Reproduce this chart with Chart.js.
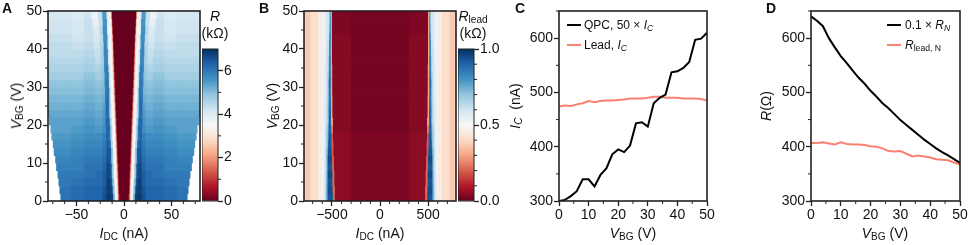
<!DOCTYPE html>
<html>
<head>
<meta charset="utf-8">
<script src="https://cdn.jsdelivr.net/npm/chart.js@4"></script>
<style>
  html, body { margin: 0; padding: 0; background: #fff; }
  body { position: relative; width: 969px; height: 245px; overflow: hidden;
    font-family: "Liberation Sans", Arial, sans-serif; color: #111; }
  .box { position: absolute; }
  .txt { position: absolute; white-space: nowrap; font-size: 14px; line-height: 16px; }
  .cx { transform: translate(-50%, -50%); }
  .rot { transform: translate(-50%, -50%) rotate(-90deg); }
  .panel { font-weight: bold; font-size: 14px; }
  .leg { font-size: 12px; transform: translateY(-50%); }
  .swatch { position: absolute; height: 2px; width: 14px; }
  sub { font-size: 72%; line-height: 0; vertical-align: -0.22em; }
</style>
</head>
<body>
<div class="box" style="left:0;top:0;width:202px;height:245px"><canvas id="chart-a"></canvas></div>
<div class="box" style="left:202px;top:0;width:50px;height:245px"><canvas id="bar-a"></canvas></div>
<div class="box" style="left:260px;top:0;width:198px;height:245px"><canvas id="chart-b"></canvas></div>
<div class="box" style="left:458px;top:0;width:50px;height:245px"><canvas id="bar-b"></canvas></div>
<div class="box" style="left:515px;top:0;width:210px;height:245px"><canvas id="chart-c"></canvas></div>
<div class="box" style="left:767px;top:0;width:202px;height:245px"><canvas id="chart-d"></canvas></div>

<div class="txt panel" style="left:2px;top:0">A</div>
<div class="txt panel" style="left:259px;top:0">B</div>
<div class="txt panel" style="left:515px;top:0">C</div>
<div class="txt panel" style="left:766px;top:0">D</div>

<div class="txt cx" style="left:124px;top:233px"><i>I</i><sub>DC</sub> (nA)</div>
<div class="txt rot" style="left:16px;top:106px"><i>V</i><sub>BG</sub> (V)</div>
<div class="txt cx" style="left:215px;top:16px"><i>R</i></div>
<div class="txt cx" style="left:215px;top:33px">(kΩ)</div>

<div class="txt cx" style="left:380px;top:233px"><i>I</i><sub>DC</sub> (nA)</div>
<div class="txt rot" style="left:272px;top:106px"><i>V</i><sub>BG</sub> (V)</div>
<div class="txt cx" style="left:473px;top:16px"><i>R</i><sub>lead</sub></div>
<div class="txt cx" style="left:473px;top:33px">(kΩ)</div>

<div class="txt cx" style="left:633px;top:233px"><i>V</i><sub>BG</sub> (V)</div>
<div class="txt rot" style="left:515px;top:106px"><i>I<sub>C</sub></i>&nbsp; (nA)</div>
<div class="swatch" style="left:567px;top:24px;background:#000"></div>
<div class="txt leg" style="left:584px;top:25px">QPC, 50 × <i>I<sub>C</sub></i></div>
<div class="swatch" style="left:567px;top:44px;background:#fa8072"></div>
<div class="txt leg" style="left:584px;top:45px">Lead, <i>I<sub>C</sub></i></div>

<div class="txt cx" style="left:885px;top:233px"><i>V</i><sub>BG</sub> (V)</div>
<div class="txt rot" style="left:766px;top:106px"><i>R</i>(Ω)</div>
<div class="swatch" style="left:887px;top:24px;background:#000"></div>
<div class="txt leg" style="left:905px;top:25px">0.1 × <i>R<sub>N</sub></i></div>
<div class="swatch" style="left:887px;top:44px;background:#fa8072"></div>
<div class="txt leg" style="left:905px;top:45px"><i>R</i><sub>lead, N</sub></div>

<script>
// back gate sweep: the maps are measured in 2 V rows, row centres below
const rowsVbg = [1, 3, 5, 7, 9, 11, 13, 15, 17, 19, 21, 23, 25, 27, 29, 31, 33, 35, 37, 39, 41, 43, 45, 47, 49];

// panel A, one line per row, |I_DC| where each band ends (nA) and its R (kOhm)
const edgesA = [
  [4.5, 5.5, 6.5, 9, 11, 14, 18, 22, 30, 42, 55, 66.5],
  [4.8, 5.8, 6.8, 9.5, 11.5, 14, 18, 22, 30, 42, 55, 67.5],
  [5, 6, 7, 10, 12, 14.5, 18, 22, 30, 42, 55, 68.5],
  [5.3, 6.3, 7.3, 10.5, 12.5, 15, 18, 22, 30, 42, 55, 69.5],
  [5.6, 6.6, 7.6, 10.5, 12.5, 15, 18, 22, 30, 42, 55, 71],
  [6, 7, 8, 11, 13, 15, 18, 22, 30, 42, 55, 72],
  [6.3, 7.2, 8.2, 11, 13, 15, 18, 22, 30, 42, 55, 73.5],
  [6.6, 7.5, 8.5, 11.5, 13.5, 15.5, 18, 22, 30, 42, 55, 74.5],
  [6.9, 7.8, 8.8, 12, 14, 16, 18.5, 22, 30, 42, 55, 76],
  [7.2, 8.1, 9, 12, 14, 16, 18.5, 22, 30, 42, 55, 77],
  [7.5, 8.4, 9.4, 12.5, 14.5, 16, 19, 22, 30, 42, 55, 78.5],
  [7.8, 8.7, 9.7, 13, 15, 16.5, 19, 22, 30, 42, 55, 80],
  [8.1, 9, 10, 13, 15, 16.5, 19, 22, 30, 42, 55, 80],
  [8.5, 9.3, 10.3, 13.5, 15, 17, 19.5, 23, 30, 42, 55, 80],
  [8.8, 9.6, 10.6, 13.5, 15, 17, 19.5, 23, 30, 42, 55, 80],
  [9.1, 9.9, 11, 14, 15.5, 17.5, 20, 23, 30, 42, 55, 80],
  [9.4, 10.2, 11.3, 14, 15.5, 17.5, 20, 23.5, 30, 42, 55, 80],
  [9.7, 10.5, 11.6, 14.5, 16, 18, 20.5, 24, 30, 42, 55, 80],
  [10, 10.8, 12, 15, 16.5, 18, 20.5, 24, 30, 42, 55, 80],
  [10.3, 11, 12.3, 15, 16.5, 18, 21, 24.5, 31, 42, 55, 80],
  [10.6, 11.3, 12.6, 15.5, 17, 18.5, 21, 25, 31, 42, 55, 80],
  [11, 11.6, 13, 15.5, 17, 18.5, 21.5, 25, 32, 42, 55, 80],
  [11.4, 12, 13.3, 16, 17.5, 19, 22, 26, 32, 42, 55, 80],
  [11.8, 12.4, 13.7, 16, 17.5, 19, 22, 26, 33, 42, 55, 80],
  [12.2, 12.8, 14, 16.5, 18, 19.5, 22.5, 27, 34, 42, 55, 80]
];
const valuesA = [
  [0, 1, 2.5, 3.6, 5, 6.8, 6.9, 6.6, 6.3, 6.3, 6.2, 6.1],
  [0, 1, 2.5, 3.6, 5, 6.7, 6.8, 6.5, 6.3, 6.3, 6.2, 6.1],
  [0, 1, 2.5, 3.6, 5, 6.6, 6.8, 6.4, 6.2, 6.2, 6.1, 6],
  [0, 1, 2.5, 3.6, 4.9, 6.6, 6.7, 6.4, 6.2, 6.1, 6, 6],
  [0, 1, 2.5, 3.6, 4.9, 6.5, 6.7, 6.3, 6.1, 6.1, 5.9, 5.9],
  [0, 1, 2.5, 3.6, 4.8, 6.4, 6.6, 6.2, 6, 6, 5.9, 5.8],
  [0, 1, 2.5, 3.6, 4.8, 6.4, 6.5, 6.1, 5.9, 5.9, 5.8, 5.7],
  [0, 1, 2.5, 3.6, 4.7, 6.3, 6.4, 6, 5.8, 5.8, 5.7, 5.6],
  [0, 1, 2.5, 3.6, 4.7, 6.2, 6.3, 5.9, 5.7, 5.7, 5.6, 5.5],
  [0, 1, 2.5, 3.6, 4.6, 6.2, 6.3, 5.7, 5.5, 5.6, 5.5, 5.4],
  [0, 1, 2.5, 3.6, 4.6, 6.2, 6.3, 5.6, 5.4, 5.5, 5.4, 5.4],
  [0, 1, 2.5, 3.6, 4.5, 6.1, 6.2, 5.5, 5.3, 5.4, 5.3, 5.3],
  [0, 1, 2.5, 3.6, 4.5, 6.1, 6.2, 5.4, 5.2, 5.3, 5.2, 5.2],
  [0, 1, 2.5, 3.6, 4.4, 6.1, 6.1, 5.2, 5.1, 5.2, 5.1, 5.1],
  [0, 1, 2.5, 3.6, 4.4, 6, 6, 5.1, 5, 5.1, 5, 5],
  [0, 1, 2.5, 3.6, 4.4, 6, 6, 5, 4.9, 5, 4.9, 4.9],
  [0, 1, 2.5, 3.6, 4.3, 5.9, 5.9, 4.9, 4.7, 4.9, 4.7, 4.7],
  [0, 1, 2.6, 3.6, 4.3, 5.9, 5.9, 4.8, 4.6, 4.7, 4.6, 4.6],
  [0, 1, 2.6, 3.6, 4.2, 5.8, 5.8, 4.7, 4.4, 4.6, 4.5, 4.5],
  [0, 1, 2.7, 3.6, 4.2, 5.8, 5.8, 4.6, 4.3, 4.5, 4.4, 4.4],
  [0, 1, 2.8, 3.6, 4.2, 5.7, 5.8, 4.5, 4.2, 4.4, 4.3, 4.4],
  [0, 1, 2.8, 3.6, 4.1, 5.7, 5.7, 4.4, 4.1, 4.3, 4.2, 4.3],
  [0, 1, 2.9, 3.5, 4.1, 5.6, 5.7, 4.4, 4, 4.3, 4.1, 4.2],
  [0, 1, 3, 3.4, 4.1, 5.6, 5.6, 4.3, 3.8, 4.3, 4.1, 4.2],
  [0, 1, 3, 3.3, 4, 5.5, 5.5, 4.3, 3.7, 4.2, 4, 4.1]
];

// panel B, same idea, lead resistance in kOhm
const edgesB = [
  [300, 465, 485, 540, 555, 575, 600, 640, 720, 790],
  [300, 465, 488, 540, 555, 575, 600, 640, 720, 790],
  [300, 470, 490, 540, 555, 575, 600, 640, 720, 790],
  [300, 470, 490, 540, 555, 575, 600, 640, 720, 790],
  [300, 475, 493, 540, 555, 575, 600, 640, 720, 790],
  [300, 475, 495, 540, 555, 575, 600, 640, 720, 790],
  [300, 480, 497, 538, 555, 575, 600, 640, 720, 790],
  [300, 480, 500, 535, 555, 575, 600, 640, 720, 790],
  [300, 485, 500, 532, 555, 575, 600, 640, 720, 790],
  [300, 485, 503, 532, 555, 575, 600, 640, 720, 790],
  [300, 485, 505, 530, 550, 575, 600, 640, 720, 790],
  [300, 490, 505, 530, 550, 575, 600, 640, 720, 790],
  [300, 490, 505, 530, 550, 575, 600, 640, 720, 790],
  [300, 490, 505, 530, 550, 575, 600, 640, 720, 790],
  [300, 492, 507, 530, 550, 575, 600, 640, 720, 790],
  [300, 492, 507, 530, 550, 575, 600, 640, 720, 790],
  [300, 492, 507, 528, 550, 575, 600, 640, 720, 790],
  [300, 492, 507, 528, 550, 575, 600, 640, 720, 790],
  [300, 495, 507, 528, 550, 575, 600, 640, 720, 790],
  [300, 495, 507, 526, 550, 575, 600, 640, 720, 790],
  [300, 495, 507, 526, 550, 575, 600, 640, 720, 790],
  [300, 495, 505, 524, 550, 575, 600, 640, 720, 790],
  [300, 495, 505, 522, 550, 575, 600, 640, 720, 790],
  [300, 495, 505, 520, 550, 575, 600, 640, 720, 790],
  [300, 495, 505, 520, 550, 575, 600, 640, 720, 790]
];
const valuesB = [
  [0.03, 0.05, 0.22, 0.93, 0.76, 0.62, 0.53, 0.46, 0.41, 0.37],
  [0.03, 0.05, 0.22, 0.95, 0.76, 0.62, 0.53, 0.46, 0.41, 0.37],
  [0.03, 0.05, 0.22, 0.93, 0.74, 0.61, 0.53, 0.46, 0.41, 0.37],
  [0.03, 0.05, 0.22, 0.95, 0.74, 0.61, 0.53, 0.46, 0.41, 0.37],
  [0.03, 0.05, 0.22, 0.93, 0.72, 0.6, 0.53, 0.46, 0.41, 0.37],
  [0.03, 0.05, 0.2, 0.95, 0.72, 0.6, 0.53, 0.46, 0.41, 0.37],
  [0.03, 0.05, 0.2, 0.93, 0.72, 0.6, 0.53, 0.46, 0.41, 0.37],
  [0.03, 0.05, 0.2, 0.92, 0.7, 0.58, 0.52, 0.46, 0.41, 0.37],
  [0.03, 0.05, 0.2, 0.92, 0.7, 0.58, 0.52, 0.46, 0.41, 0.37],
  [0.02, 0.04, 0.25, 0.9, 0.68, 0.58, 0.52, 0.46, 0.41, 0.37],
  [0.02, 0.04, 0.3, 0.9, 0.66, 0.57, 0.52, 0.46, 0.41, 0.37],
  [0.02, 0.04, 0.3, 0.9, 0.66, 0.57, 0.52, 0.46, 0.41, 0.37],
  [0.02, 0.04, 0.3, 0.88, 0.66, 0.57, 0.52, 0.46, 0.41, 0.37],
  [0.02, 0.04, 0.3, 0.86, 0.64, 0.56, 0.52, 0.46, 0.41, 0.37],
  [0.02, 0.04, 0.3, 0.86, 0.64, 0.56, 0.52, 0.46, 0.41, 0.37],
  [0.02, 0.04, 0.3, 0.88, 0.64, 0.56, 0.52, 0.46, 0.41, 0.37],
  [0.02, 0.04, 0.3, 0.86, 0.64, 0.56, 0.52, 0.46, 0.41, 0.37],
  [0.02, 0.04, 0.3, 0.84, 0.62, 0.56, 0.52, 0.46, 0.41, 0.37],
  [0.02, 0.04, 0.3, 0.84, 0.62, 0.55, 0.52, 0.46, 0.41, 0.37],
  [0.02, 0.04, 0.3, 0.82, 0.62, 0.55, 0.52, 0.46, 0.41, 0.37],
  [0.02, 0.04, 0.3, 0.82, 0.62, 0.55, 0.52, 0.46, 0.41, 0.37],
  [0.02, 0.04, 0.3, 0.82, 0.6, 0.55, 0.52, 0.46, 0.41, 0.37],
  [0.02, 0.03, 0.3, 0.8, 0.6, 0.55, 0.52, 0.46, 0.41, 0.37],
  [0.02, 0.03, 0.3, 0.8, 0.6, 0.55, 0.52, 0.46, 0.41, 0.37],
  [0.02, 0.03, 0.3, 0.78, 0.6, 0.55, 0.52, 0.46, 0.41, 0.37]
];

// panels C and D
const vbg = [0, 2, 4, 6, 8, 10, 12, 14, 16, 18, 20, 22, 24, 26, 28, 30, 32, 34, 36, 38, 40, 42, 44, 46, 48, 50];
const qpcIc = [300, 302, 309, 318, 340, 340, 327, 348, 360, 386, 395, 390, 402, 443, 445, 437, 480, 490, 496, 537, 539, 545, 556, 597, 599, 610];
const leadIc = [474, 476, 475, 478, 480, 484, 482, 484, 485, 485, 486, 487, 489, 489, 489, 490, 492, 492, 490, 490, 490, 489, 489, 489, 488, 485];
const qpcRn = [640, 632, 622, 600, 583, 567, 554, 540, 527, 516, 503, 492, 480, 471, 460, 449, 440, 431, 422, 413, 405, 397, 390, 384, 377, 370];
const leadRn = [407, 407, 408, 406, 404, 408, 405, 404, 404, 403, 401, 400, 397, 392, 391, 392, 387, 382, 384, 382, 380, 377, 376, 375, 371, 367];

// labelled ticks
const ticksVbg = [0, 10, 20, 30, 40, 50];
const ticksIdcA = [-50, 0, 50];
const ticksIdcB = [-500, 0, 500];
const ticksCurve = [300, 400, 500, 600];
const ticksBarA = [0, 2, 4, 6];
const ticksBarB = [0, 0.5, 1];

// minor tick positions, library ticks only cover the labelled ones
const minorIdcA = [-75, -62.5, -37.5, -25, -12.5, 12.5, 25, 37.5, 62.5, 75];
const minorIdcB = [-700, -600, -400, -300, -200, -100, 100, 200, 300, 400, 600, 700];
const minorVbg = [5, 15, 25, 35, 45];
const minorCurve = [350, 450, 550, 650];
const minorBarA = [1, 3, 5];
const minorBarB = [0.1, 0.2, 0.3, 0.4, 0.6, 0.7, 0.8, 0.9];

const RDBU = ['#67001f', '#b2182b', '#d6604d', '#f4a582', '#fddbc7', '#f7f7f7', '#d1e5f0', '#92c5de', '#4393c3', '#2166ac', '#053061'];
const LINE_RED = '#fa8072';
const FONT = { family: '"Liberation Sans", Arial, sans-serif', size: 14 };

Chart.defaults.animation = false;
Chart.defaults.responsive = false;
Chart.defaults.color = '#111';

function hexToRgb(hex) {
  return [1, 3, 5].map((i) => parseInt(hex.slice(i, i + 2), 16));
}

function rdbu(t) {
  const p = Math.min(Math.max(t, 0), 1) * (RDBU.length - 1);
  const i = Math.min(Math.floor(p), RDBU.length - 2);
  const a = hexToRgb(RDBU[i]);
  const b = hexToRgb(RDBU[i + 1]);
  const c = a.map((v, k) => Math.round(v + (b[k] - v) * (p - i)));
  return `rgb(${c[0]},${c[1]},${c[2]})`;
}

// frame and short minor ticks
const framePlugin = {
  id: 'frame',
  afterDraw(chart, args, opts) {
    const { ctx, chartArea: a, scales } = chart;
    ctx.save();
    ctx.strokeStyle = '#222';
    ctx.lineWidth = opts.lineWidth || 1.6;
    ctx.strokeRect(a.left, a.top, a.right - a.left, a.bottom - a.top);
    ctx.lineWidth = 1;
    ctx.beginPath();
    (opts.minorX || []).forEach((v) => {
      const x = scales.x.getPixelForValue(v);
      ctx.moveTo(x, a.bottom);
      ctx.lineTo(x, a.bottom + 3);
    });
    (opts.minorY || []).forEach((v) => {
      const y = scales.y.getPixelForValue(v);
      if (opts.right) {
        ctx.moveTo(a.right, y);
        ctx.lineTo(a.right + 3, y);
      } else {
        ctx.moveTo(a.left, y);
        ctx.lineTo(a.left - 3, y);
      }
    });
    ctx.stroke();
    ctx.restore();
  },
};

function axis(min, max, tickList, size, sizeKey, format) {
  return {
    type: 'linear',
    min,
    max,
    offset: false,
    grid: { drawOnChartArea: false, offset: false, tickLength: 5, tickWidth: 1.3, tickColor: '#222' },
    border: { display: false },
    ticks: { font: FONT, maxRotation: 0, autoSkip: false, padding: 1, callback: format || ((v) => String(v)) },
    afterBuildTicks: (s) => { s.ticks = tickList.map((value) => ({ value })); },
    afterFit: (s) => { s[sizeKey] = size; },
  };
}

function setCanvas(id, w, h) {
  const c = document.getElementById(id);
  c.width = w;
  c.height = h;
  return c;
}

// one dataset per band index, mirrored around zero
function mapDatasets(edges, values, maxValue) {
  const datasets = [];
  const n = edges[0].length;
  for (let j = 0; j < n; j++) {
    const colors = values.map((row) => rdbu(row[j] / maxValue));
    if (j === 0) {
      datasets.push({
        data: edges.map((row, r) => ({ x: [-row[0], row[0]], y: rowsVbg[r] })),
        backgroundColor: colors,
      });
    } else {
      datasets.push({
        data: edges.map((row, r) => ({ x: [row[j - 1], row[j]], y: rowsVbg[r] })),
        backgroundColor: colors,
      });
      datasets.push({
        data: edges.map((row, r) => ({ x: [-row[j], -row[j - 1]], y: rowsVbg[r] })),
        backgroundColor: colors,
      });
    }
  }
  return datasets;
}

function renderMap(id, w, leftW, edges, values, maxValue, xRange, xTicks, minorX) {
  new Chart(setCanvas(id, w, 245), {
    type: 'bar',
    data: { datasets: mapDatasets(edges, values, maxValue) },
    options: {
      indexAxis: 'y',
      grouped: false,
      categoryPercentage: 1,
      barPercentage: 1,
      inflateAmount: 0.4,
      layout: { padding: { top: 11, right: 2, left: 0, bottom: 0 } },
      scales: {
        x: axis(-xRange, xRange, xTicks, 44, 'height', (v) => String(v).replace('-', '−')),
        y: axis(0, 50, ticksVbg, leftW, 'width'),
      },
      plugins: { legend: { display: false }, tooltip: { enabled: false },
        frame: { minorX, minorY: minorVbg } },
    },
    plugins: [framePlugin],
  });
}

function renderColorbar(id, maxValue, tickList, digits, minorY) {
  new Chart(setCanvas(id, 50, 245), {
    type: 'bar',
    data: {
      labels: ['scale'],
      datasets: [{
        data: [[0, maxValue]],
        backgroundColor: (ctx) => {
          const a = ctx.chart.chartArea;
          if (!a) return '#fff';
          const g = ctx.chart.ctx.createLinearGradient(0, a.bottom, 0, a.top);
          RDBU.forEach((c, i) => g.addColorStop(i / (RDBU.length - 1), c));
          return g;
        },
      }],
    },
    options: {
      categoryPercentage: 1,
      barPercentage: 1,
      layout: { padding: { top: 49, left: 0, right: 0, bottom: 0 } },
      scales: {
        x: {
          grid: { display: false },
          border: { display: false },
          ticks: { display: false },
          afterFit: (s) => { s.height = 44; },
        },
        y: Object.assign(axis(0, maxValue, tickList, 34, 'width', (v) => v.toFixed(digits)), { position: 'right' }),
      },
      plugins: { legend: { display: false }, tooltip: { enabled: false },
        frame: { minorY, right: true, lineWidth: 1 } },
    },
    plugins: [framePlugin],
  });
}

function renderCurves(id, w, leftW, rightW, black, red) {
  new Chart(setCanvas(id, w, 245), {
    type: 'line',
    data: {
      labels: vbg,
      datasets: [
        { label: 'black', data: vbg.map((v, i) => ({ x: v, y: black[i] })), borderColor: '#000', borderWidth: 2, pointRadius: 0, tension: 0, order: 1 },
        { label: 'red', data: vbg.map((v, i) => ({ x: v, y: red[i] })), borderColor: LINE_RED, borderWidth: 2, pointRadius: 0, tension: 0, order: 2 },
      ],
    },
    options: {
      layout: { padding: { top: 11, right: rightW, left: 0, bottom: 0 } },
      scales: {
        x: axis(0, 50, ticksVbg, 44, 'height'),
        y: axis(300, 650, ticksCurve, leftW, 'width'),
      },
      plugins: { legend: { display: false }, tooltip: { enabled: false },
        frame: { minorX: minorVbg, minorY: minorCurve } },
    },
    plugins: [framePlugin],
  });
}

renderMap('chart-a', 202, 48, edgesA, valuesA, 7, 80, ticksIdcA, minorIdcA);
renderColorbar('bar-a', 7, ticksBarA, 0, minorBarA);
renderMap('chart-b', 198, 44, edgesB, valuesB, 1, 790, ticksIdcB, minorIdcB);
renderColorbar('bar-b', 1, ticksBarB, 1, minorBarB);
renderCurves('chart-c', 210, 44, 18, qpcIc, leadIc);
renderCurves('chart-d', 202, 44, 9, qpcRn, leadRn);
</script>
</body>
</html>
